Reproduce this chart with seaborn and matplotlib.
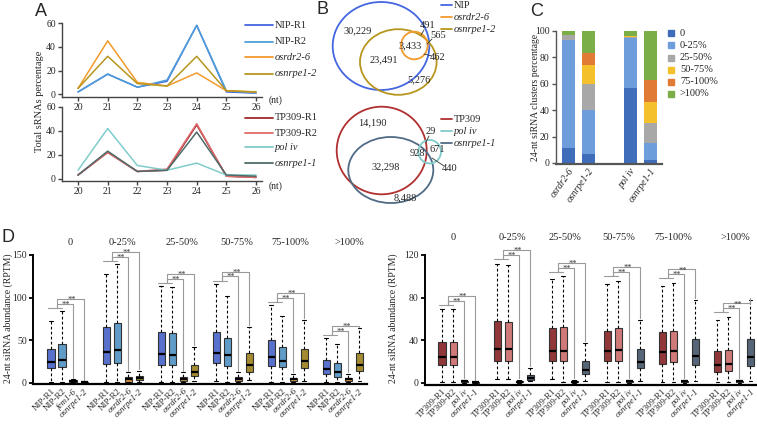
import numpy as np
import pandas as pd
import matplotlib
matplotlib.use('Agg')
import matplotlib.pyplot as plt
from matplotlib.patches import Ellipse, Rectangle
from matplotlib.lines import Line2D
import seaborn as sns

# ---- A: size distribution of sRNAs (%)
nt = [20, 21, 22, 23, 24, 25, 26]
nip_r1 = [2, 17, 6, 11, 58, 2, 1]
nip_r2 = [2, 17, 6, 12, 58, 3, 1]
osrdr2_6 = [5, 45, 10, 7, 18, 3, 2]
osnrpe1_2 = [5, 32, 9, 7, 32, 3, 2]
tp309_r1 = [3, 22, 6, 7, 45, 2, 1]
tp309_r2 = [3, 22, 6, 8, 46, 2, 1]
pol_iv = [7, 42, 11, 7, 13, 3, 3]
osnrpe1_1 = [3, 23, 6, 7, 39, 3, 2]

# ---- B: venn counts
venn_top = ['30,229', '491', '565', '3,433', '462', '23,491', '5,276']
venn_bot = ['14,190', '29', '928', '671', '32,298', '440', '8,488']

# ---- C: 24-nt cluster categories (%)
c_samples = ['osrdr2-6', 'osnrpe1-2', 'pol iv', 'osnrpe1-1']
c_bins = ['0', '0-25%', '25-50%', '50-75%', '75-100%', '>100%']
c_0 = [11, 7, 57, 2]
c_0_25 = [82, 33, 38, 13]
c_25_50 = [4, 20, 0.5, 15]
c_50_75 = [0, 14, 1, 16]
c_75_100 = [0, 9, 0, 17]
c_100 = [3, 17, 3.5, 37]

# ---- D: box stats (low, q1, median, q3, high) per group
groups = ['0', '0-25%', '25-50%', '50-75%', '75-100%', '>100%']
nip_r1_box = [[1, 17, 24, 40, 73], [1, 22, 36, 65, 128], [1, 21, 34, 59, 113],
              [2, 23, 35, 60, 116], [1, 20, 30, 50, 91], [1, 10, 16, 27, 52]]
nip_r2_box = [[1, 19, 27, 45, 84], [1, 23, 38, 70, 139], [1, 21, 33, 58, 112],
              [1, 20, 32, 53, 102], [1, 18, 26, 42, 78], [1, 7, 13, 23, 45]]
osrdr2_6_box = [[0.5, 1, 2, 3, 4], [0.5, 1, 4, 6.5, 12], [0.5, 2, 4.5, 7, 12],
                [1, 2, 4.5, 7, 12], [0.5, 1.5, 4, 6, 10], [0.5, 1.5, 4, 6, 10]]
osnrpe1_2_box = [[0, 0, 0.3, 0.5, 0.5], [1, 3, 5, 8, 14], [2, 8, 13, 21, 42],
                 [3, 13, 21, 35, 66], [2, 17, 25, 40, 74], [2, 14, 21, 35, 64]]
tp309_r1_box = [[1, 16.5, 24, 38, 69], [3, 20.5, 32, 58, 112], [3, 20, 30, 51, 97],
                [1, 20, 30, 49, 93], [1, 18, 28.5, 47.5, 91], [1, 10, 17, 30, 59]]
tp309_r2_box = [[1, 16.5, 24, 38, 69], [3, 20, 32, 57, 111], [1, 20, 30, 52, 100],
                [1, 20, 31, 51, 96], [1, 19, 30, 49, 94], [1, 11, 18, 31, 62]]
pol_iv_box = [[0, 0.5, 1.2, 1.8, 2.5], [0, 0.4, 1, 1.6, 2.2], [0, 0.4, 1, 1.6, 2.2],
              [0, 0.5, 1.2, 1.8, 2.5], [0, 0.5, 1.2, 1.8, 2.5], [0, 0.5, 1.2, 1.8, 2.5]]
osnrpe1_1_box = [[0, 0, 0.2, 0.4, 0.5], [1.5, 2.5, 4.5, 7, 14], [2, 8, 12, 20, 37],
                 [2, 13.5, 19, 32, 59], [2, 16.5, 25.5, 41.5, 78], [2, 16, 24, 41, 77.5]]

left_names = ['NIP-R1', 'NIP-R2', 'osrdr2-6', 'osnrpe1-2']
left_ticks = ['NIP-R1', 'NIP-R2', 'fem1-6', 'osnrpe1-2'] + ['NIP-R1', 'NIP-R2', 'osrdr2-6', 'osnrpe1-2'] * 5
right_names = ['TP309-R1', 'TP309-R2', 'pol iv', 'osnrpe1-1']
right_ticks = right_names * 6

colors = {'NIP-R1': '#4466e0', 'NIP-R2': '#4f9fd8', 'osrdr2-6': '#f29b2c', 'osnrpe1-2': '#b8961e',
          'TP309-R1': '#a0282b', 'TP309-R2': '#de6b6b', 'pol iv': '#80cccc', 'osnrpe1-1': '#4e6b6a'}
box_colors = dict(colors, **{'osnrpe1-1': '#50667e', 'pol iv': '#333333'})
bin_colors = ['#3f6dba', '#6d9edb', '#a8a8a8', '#f4c02c', '#e07a35', '#7cae48']

sns.set_theme(style='ticks')
plt.rcParams['font.family'] = ['Liberation Serif', 'DejaVu Serif']
plt.rcParams['axes.linewidth'] = 1.0

W, H = 757, 424
fig = plt.figure(figsize=(W / 100, H / 100), dpi=100)


def px_axes(l, t, r, b):
    return fig.add_axes([l / W, 1 - b / H, (r - l) / W, (b - t) / H])


def style_ax(ax, col='#444444'):
    sns.despine(ax=ax)
    for s in ['left', 'bottom']:
        ax.spines[s].set_color(col)
    ax.tick_params(length=3, width=1, color=col, labelsize=7, pad=1.5)


# ---- panel A
def size_panel(ax, names, series):
    df = pd.DataFrame({'nt': nt * len(names),
                       'pct': sum(series, []),
                       'sample': np.repeat(names, len(nt))})
    sns.lineplot(data=df, x='nt', y='pct', hue='sample', palette=colors,
                 linewidth=1.1, ax=ax, legend=False)
    ax.set_xlim(19.46, 26.2)
    ax.set_ylim(-2, 60)
    ax.set_xticks(nt)
    ax.set_yticks([0, 20, 40, 60])
    ax.set_xlabel('')
    ax.set_ylabel('')
    ax.set_facecolor('none')
    style_ax(ax)


axA1 = px_axes(62, 23, 262, 96.7)
size_panel(axA1, left_names, [nip_r1, nip_r2, osrdr2_6, osnrpe1_2])
axA2 = px_axes(62, 107, 262, 181)
size_panel(axA2, right_names, [tp309_r1, tp309_r2, pol_iv, osnrpe1_1])

# ---- panel C
axC = px_axes(556, 31, 662, 164.3)
c_pos = [0, 1, 3.1, 4.1]
bottom = np.zeros(4)
for vals, col in zip([c_0, c_0_25, c_25_50, c_50_75, c_75_100, c_100], bin_colors):
    axC.bar(c_pos, vals, bottom=bottom, width=0.65, color=col, edgecolor='none')
    bottom += np.array(vals)
axC.set_xlim(-0.6, 4.7)
axC.set_ylim(-1, 100)
axC.set_yticks([0, 20, 40, 60, 80, 100])
axC.set_xticks(c_pos)
axC.set_xticklabels(c_samples, rotation=55, ha='right', rotation_mode='anchor',
                    fontstyle='italic', fontsize=7)
axC.set_facecolor('none')
style_ax(axC, '#555555')
axC.spines['bottom'].set_linewidth(1.6)
axC.tick_params(axis='x', length=0)


# ---- panel D
def box_panel(ax, names, boxes, ticks, top, yticks, d, star_dy, label_pos, label_y):
    rows = []
    for g in range(6):
        for i, nm in enumerate(names):
            for v in boxes[i][g]:
                rows.append({'pos': g * 5 + i, 'sample': nm, 'val': v})
    df = pd.DataFrame(rows)
    sns.boxplot(data=df, x='pos', y='val', hue='sample', palette=box_colors,
                native_scale=True, dodge=False, width=0.65, whis=(0, 100),
                linecolor='#333333', linewidth=0.8, fliersize=0, legend=False, ax=ax,
                whiskerprops=dict(linestyle=(0, (2.5, 2)), color='black', linewidth=0.8),
                capprops=dict(color='black', linewidth=0.8),
                medianprops=dict(color='black', linewidth=1.6))
    gray = '#9a9a9a'
    for g in range(6):
        p = [g * 5 + i for i in range(4)]
        hi = [b[g][4] for b in boxes]
        base = max(hi[0], hi[1]) + d[0]
        mid = (p[0] + p[1]) / 2
        ax.plot([p[0] - 0.3, p[1]], [base, base], color=gray, lw=0.8, clip_on=False)
        for k, t in enumerate([2, 3]):
            yb = base + d[1] + k * d[2]
            ax.plot([mid, mid, p[t], p[t]], [base, yb, yb, hi[t] + 2],
                    color=gray, lw=0.8, clip_on=False)
            ax.text((mid + p[t]) / 2 + 0.1, yb + star_dy, '**', ha='center', va='center',
                    fontsize=6, color='#333333', clip_on=False)
        ax.text(label_pos[g], label_y, groups[g], ha='center', va='center', fontsize=7.5)
    ax.set_xticks([g * 5 + i for g in range(6) for i in range(4)])
    ax.set_xticklabels(ticks, rotation=45, ha='right', rotation_mode='anchor', fontsize=6.5)
    for lab in ax.get_xticklabels():
        if lab.get_text() not in ('NIP-R1', 'NIP-R2', 'TP309-R1', 'TP309-R2'):
            lab.set_fontstyle('italic')
    ax.set_ylim(-2, top)
    ax.set_yticks(yticks)
    ax.set_xlabel('')
    ax.set_ylabel('')
    ax.set_facecolor('none')
    sns.despine(ax=ax)
    ax.spines['left'].set_linewidth(1.4)
    ax.spines['bottom'].set_linewidth(1.6)
    ax.spines['left'].set_color('black')
    ax.spines['bottom'].set_color('black')
    ax.tick_params(axis='y', length=3, width=1.3, color='black', labelsize=7, pad=1.5)
    ax.tick_params(axis='x', length=0, pad=2)


axD1 = px_axes(33, 255, 367, 384.4)
box_panel(axD1, left_names, [nip_r1_box, nip_r2_box, osrdr2_6_box, osnrpe1_2_box],
          left_ticks, 150, [0, 50, 100, 150], (4, 5, 5.5), -1.2,
          [1.7, 6.5, 11.9, 16.9, 21.7, 27.1], 165)
axD1.set_xlim(-1.64, 28.7)
axD2 = px_axes(425, 255, 757, 384.8)
box_panel(axD2, right_names, [tp309_r1_box, tp309_r2_box, pol_iv_box, osnrpe1_1_box],
          right_ticks, 120, [0, 40, 80, 120], (4, 4, 4.5), -1.0,
          [1.0, 6.4, 11.2, 16.0, 21.0, 26.6], 136)
axD2.set_xlim(-1.55, 28.6)

# ---- overlay: venn, legends, labels
ov = fig.add_axes([0, 0, 1, 1])
ov.set_xlim(0, W)
ov.set_ylim(H, 0)
ov.axis('off')

for (cx, cy, hw, hh), nm in zip([(381, 46, 48.3, 44), (398.3, 62, 38.3, 32.8), (414.3, 45.5, 13.3, 13.8)],
                                ['NIP-R1', 'osnrpe1-2', 'osrdr2-6']):
    ov.add_patch(Ellipse((cx, cy), 2 * hw, 2 * hh, fill=False, ec=colors[nm], lw=1.3))
for (cx, cy, hw, hh), col in zip([(381.7, 150.5, 45, 43.8), (390.8, 170, 42.5, 33), (429.7, 151.7, 11.3, 11.7)],
                                 ['#b03030', '#4f6b85', '#80cccc']):
    ov.add_patch(Ellipse((cx, cy), 2 * hw, 2 * hh, fill=False, ec=col, lw=1.3))
for s, (x, y) in zip(venn_top, [(358, 31), (428, 26), (438, 36), (410.5, 46), (438, 57), (384, 60), (419, 80)]):
    ov.text(x, y, s, ha='center', va='center', fontsize=7.5)
for s, (x, y) in zip(venn_bot, [(372, 123), (431, 131), (417.5, 153), (437, 150), (386, 167), (450, 168.5), (405, 198)]):
    ov.text(x, y, s, ha='center', va='center', fontsize=7.5)
for x0, y0, x1, y1 in [(424, 30, 421, 35), (432, 39, 427, 44), (432, 56, 424, 54),
                       (429, 136, 426, 142), (444, 166, 432, 158)]:
    ov.plot([x0, x1], [y0, y1], color='#333333', lw=0.6)


def legend(x0, x1, xt, ys, labels, cols, italic, size=7.5):
    for y, lab, col, it in zip(ys, labels, cols, italic):
        ov.add_line(Line2D([x0, x1], [y, y], color=col, lw=1.3))
        ov.text(xt, y, lab, va='center', ha='left', fontsize=size,
                fontstyle='italic' if it else 'normal')


legend(245, 273, 275, [25, 42, 57, 74], left_names, [colors[n] for n in left_names], [0, 0, 1, 1])
legend(245, 273, 275, [118, 133, 147, 163], right_names, [colors[n] for n in right_names], [0, 0, 1, 1])
legend(441, 452, 454, [5, 17, 29], ['NIP', 'osrdr2-6', 'osnrpe1-2'],
       [colors['NIP-R1'], colors['osrdr2-6'], colors['osnrpe1-2']], [0, 1, 1])
legend(441, 452, 454, [119, 131, 143], ['TP309', 'pol iv', 'osnrpe1-1'],
       ['#b03030', '#80cccc', '#4f6b85'], [0, 1, 1])

for y, lab, col in zip([33, 45, 58, 70, 82, 94], c_bins, bin_colors):
    ov.add_patch(Rectangle((668, y - 3), 6, 6, color=col))
    ov.text(680, y, lab, va='center', ha='left', fontsize=7.5)

ov.text(276, 100, '(nt)', va='center', ha='center', fontsize=7)
ov.text(276, 186, '(nt)', va='center', ha='center', fontsize=7)
ov.text(40, 101, 'Total sRNAs percentage', rotation=90, va='center', ha='center', fontsize=7.5)
ov.text(535, 97, '24-nt siRNA clusters percentage', rotation=90, va='center', ha='center', fontsize=7)
ov.text(8, 318, '24-nt siRNA abundance (RPTM)', rotation=90, va='center', ha='center', fontsize=7)
ov.text(393, 318, '24-nt siRNA abundance (RPTM)', rotation=90, va='center', ha='center', fontsize=7)

for lab, (x, y) in zip('ABCD', [(41, 11), (322, 9), (537, 11), (8, 238)]):
    ov.text(x, y, lab, ha='center', va='center', fontsize=13, family='Liberation Sans')

fig.savefig('out.png', dpi=100)
